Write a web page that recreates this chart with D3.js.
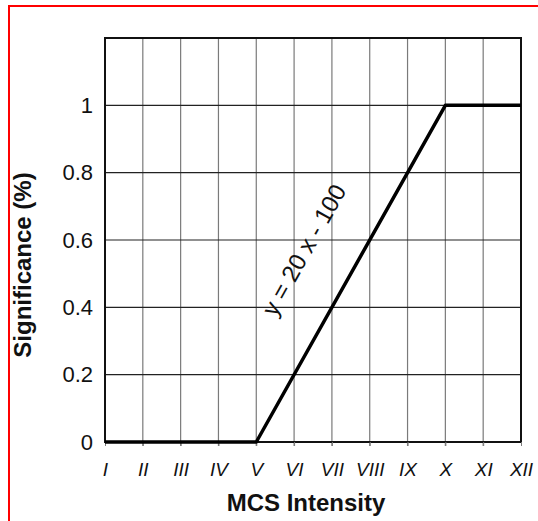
<!DOCTYPE html>
<html>
<head>
<meta charset="utf-8">
<script src="https://cdn.jsdelivr.net/npm/d3@7"></script>
<style>
	body { margin: 0; background: #fff; }
	svg { display: block; font-family: "Liberation Sans", Arial, sans-serif; }
</style>
</head>
<body>
<script>
// data //{{{
var intensity = ["I","II","III","IV","V","VI","VII","VIII","IX","X","XI","XII"];
var curve_x = ["I","V","X","XII"];   // break points of the significance curve
var curve_y = [0, 0, 1, 1];
var y_ticks = [0, 0.2, 0.4, 0.6, 0.8, 1];
var y_max = 1.2;
var formula = "y = 20 x - 100";
//}}}

var W = 538, H = 521;
var m = { l: 105, r: 521, t: 38, b: 442 };

var svg = d3.select("body").append("svg").attr("width", W).attr("height", H);

// red frame, only top and left visible
svg.append("rect").attr("x", 9).attr("y", 6).attr("width", 700).attr("height", 700)
	.attr("fill", "none").attr("stroke", "#ff0000").attr("stroke-width", 2);

var x = d3.scalePoint().domain(intensity).range([m.l, m.r]);
var y = d3.scaleLinear().domain([0, y_max]).range([m.b, m.t]);

// grid //{{{
svg.append("g").selectAll("line").data(intensity.slice(1, -1)).join("line")
	.attr("x1", d => x(d)).attr("x2", d => x(d))
	.attr("y1", m.t).attr("y2", m.b + 4)
	.attr("stroke", "#7a7a7a").attr("stroke-width", 1.2);

svg.append("g").selectAll("line").data(y_ticks.slice(1)).join("line")
	.attr("x1", m.l).attr("x2", m.r)
	.attr("y1", d => y(d)).attr("y2", d => y(d))
	.attr("stroke", "#222").attr("stroke-width", 1.2);
//}}}

// frame
svg.append("rect").attr("x", m.l).attr("y", m.t).attr("width", m.r - m.l).attr("height", m.b - m.t)
	.attr("fill", "none").attr("stroke", "#111").attr("stroke-width", 2);

// axes //{{{
var xAxis = d3.axisBottom(x).tickSize(4).tickPadding(17);
var gX = svg.append("g").attr("transform", "translate(0," + m.b + ")").call(xAxis)
	.attr("font-size", 19).attr("font-style", "italic").attr("font-family", "Liberation Sans, Arial, sans-serif");
gX.select(".domain").remove();
gX.selectAll("line").attr("stroke", "#7a7a7a");
gX.selectAll("text").attr("fill", "#111");

var yAxis = d3.axisLeft(y).tickValues(y_ticks).tickSize(0).tickPadding(12).tickFormat(d3.format(""));
var gY = svg.append("g").attr("transform", "translate(" + m.l + ",0)").call(yAxis)
	.attr("font-size", 22).attr("font-family", "Liberation Sans, Arial, sans-serif");
gY.select(".domain").remove();
gY.selectAll("text").attr("fill", "#111");
//}}}

// curve
var pts = curve_x.map((c, i) => [x(c), y(curve_y[i])]);
svg.append("path").attr("d", d3.line()(pts))
	.attr("fill", "none").attr("stroke", "#000").attr("stroke-width", 3.5)
	.attr("stroke-linejoin", "round");

// formula along the rising part
var p0 = pts[1], p1 = pts[2];
var ang = Math.atan2(p1[1] - p0[1], p1[0] - p0[0]) * 180 / Math.PI;
svg.append("text").attr("transform", "translate(" + 304 + "," + 250 + ") rotate(" + ang + ")")
	.attr("text-anchor", "middle").attr("dy", "0.35em")
	.style("font-size", "24px").attr("fill", "#111").text(formula);

// titles
svg.append("text").attr("x", 306).attr("y", 511).attr("text-anchor", "middle")
	.style("font-size", "24px").attr("font-weight", "bold").attr("fill", "#111").text("MCS Intensity");
svg.append("text").attr("transform", "translate(31,265) rotate(-90)").attr("text-anchor", "middle")
	.style("font-size", "24px").attr("font-weight", "bold").attr("fill", "#111").text("Significance (%)");
</script>
</body>
</html>
